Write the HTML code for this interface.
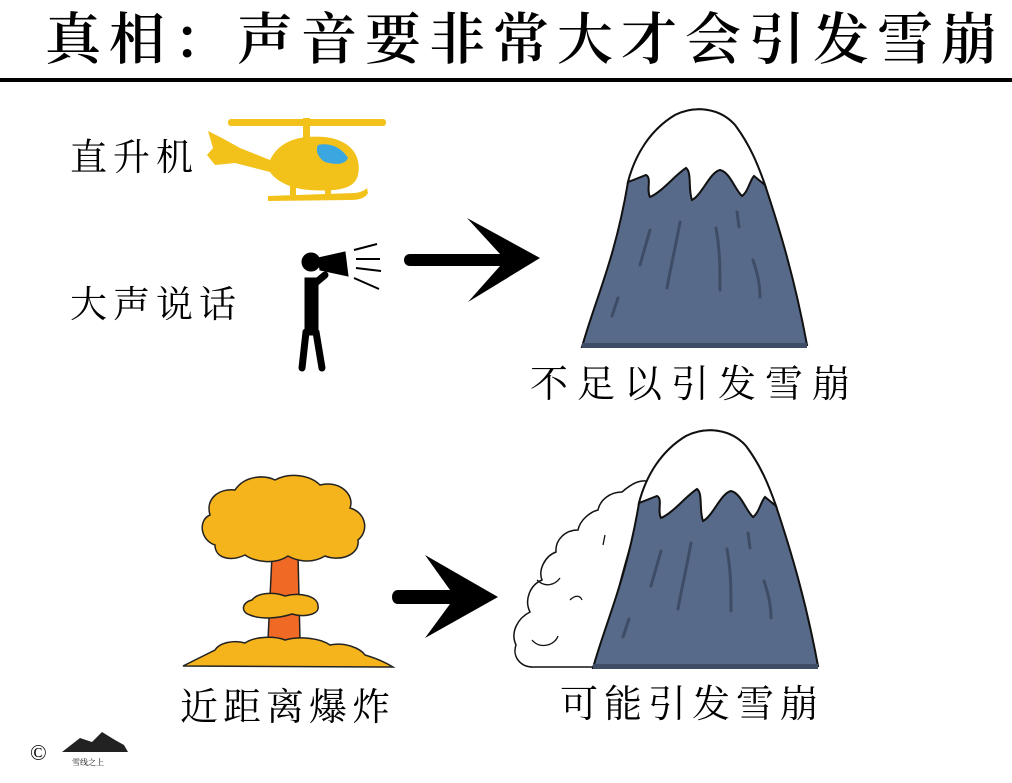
<!DOCTYPE html>
<html><head><meta charset="utf-8"><style>
html,body{margin:0;padding:0;background:#fff;}
body{width:1012px;height:783px;overflow:hidden;}
svg{display:block}
text{font-family:"Liberation Serif","Noto Serif CJK SC","Noto Sans CJK SC",serif;fill:#000;}
</style></head><body>
<svg width="1012" height="783" viewBox="0 0 1012 783" xmlns="http://www.w3.org/2000/svg">
<defs>
<g id="mtn">
  <path d="M12,247 C25,200 45,160 58,82 C65,55 80,30 105,15 C125,5 150,8 165,25 C180,45 188,65 195,85 C210,130 225,180 237,245 Z" fill="#586a89" stroke="#111" stroke-width="2"/>
  <rect x="12" y="243" width="225" height="5" fill="#3e4c66"/>
  <path d="M58,82 C65,55 80,30 105,15 C125,5 150,8 165,25 C180,45 188,65 195,85 L184,76 C180,80 178,92 172,96 C165,90 160,72 150,70 C140,72 132,95 122,100 C118,90 122,72 116,68 C105,75 92,92 80,97 C76,90 82,78 76,75 Z" fill="#fff" stroke="#111" stroke-width="2"/>
  <g stroke="#3e4c66" stroke-width="3" fill="none" stroke-linecap="round">
    <path d="M80,130 L70,165"/><path d="M110,122 C105,150 100,170 97,188"/>
    <path d="M146,128 C150,150 150,170 150,190"/><path d="M167,112 L169,127"/>
    <path d="M183,160 C188,175 190,185 190,197"/><path d="M48,198 L42,216"/>
  </g>
</g>
</defs>

<text x="45" y="59" font-size="56" letter-spacing="8" font-weight="600">真相：声音要非常大才会引发雪崩</text>
<rect x="0" y="78" width="1012" height="4" fill="#000"/>

<text x="70" y="170" font-size="37" letter-spacing="6">直升机</text>
<text x="70" y="317" font-size="37" letter-spacing="6">大声说话</text>
<text x="530" y="397" font-size="38" letter-spacing="9">不足以引发雪崩</text>
<text x="180" y="720" font-size="38" letter-spacing="5">近距离爆炸</text>
<text x="560" y="717" font-size="38" letter-spacing="6">可能引发雪崩</text>

<!-- helicopter -->
<g fill="#f2c21b">
  <rect x="228" y="119" width="158" height="7" rx="3"/>
  <rect x="303" y="118" width="7" height="22"/>
  <path d="M270,160 C280,140 300,135 325,137 C350,140 362,155 358,175 C355,188 340,192 310,190 C290,189 275,180 270,172 L235,163 L215,165 L207,155 L213,148 L208,131 L222,138 L240,148 Z"/>
  <rect x="290" y="186" width="6" height="12"/><rect x="325" y="186" width="6" height="12"/>
  <path d="M268,196 L355,193 C362,192 365,190 367,188 L368,193 C365,198 360,200 350,200 L268,201 Z"/>
</g>
<path d="M318,145 C330,142 342,148 348,158 C345,165 335,165 325,162 C318,158 315,150 318,145 Z" fill="#3aa7e0"/>

<!-- person -->
<g fill="#000" stroke="#000">
  <circle cx="311" cy="262" r="9"/>
  <path d="M305,278 L318,278 L318,335 L305,335 Z"/>
  <path d="M306,332 L302,368 M316,332 L322,368" stroke-width="7" stroke-linecap="round" fill="none"/>
  <path d="M318,258 L345,252 L348,276 L320,270 Z"/>
  <path d="M313,285 L325,275" stroke-width="7" stroke-linecap="round"/>
  <g stroke-width="2" fill="none"><path d="M354,250 L377,244"/><path d="M356,259 L380,259"/><path d="M356,268 L381,271"/><path d="M354,278 L379,289"/></g>
</g>

<!-- arrow 1 -->
<path d="M410,254 L500,254 L467,218 L540,258 L468,302 L500,266 L410,266 C402,266 402,254 410,254 Z" fill="#000"/>

<use href="#mtn" x="570" y="100"/>

<!-- avalanche cloud -->
<path d="M651,482 C640,478 630,485 622,492 C610,492 600,500 598,510 C590,512 580,520 578,530 C565,530 555,540 556,552 C545,556 538,570 542,580 C530,585 524,600 530,612 C518,618 510,632 516,645 C512,656 520,668 535,667 L600,667 C612,610 630,540 651,482 Z" fill="#fff" stroke="#111" stroke-width="1.5"/>
<g stroke="#111" stroke-width="1.3" fill="none">
  <path d="M537,580 C545,588 555,585 560,578"/><path d="M532,640 C540,650 555,645 558,636"/>
  <path d="M605,535 L603,545"/><path d="M570,600 C575,595 580,595 582,600"/>
</g>
<use href="#mtn" x="581" y="421"/>

<!-- arrow 2 -->
<path d="M398,590 L450,590 L425,555 L498,597 L425,638 L450,604 L398,604 C390,604 390,590 398,590 Z" fill="#000"/>

<!-- mushroom cloud -->
<g stroke="#222" stroke-width="1.5">
  <path d="M272,555 L268,640 L300,640 L298,555 Z" fill="#f06a25"/>
  <path d="M215,545 C200,540 198,520 210,515 C205,498 220,488 235,490 C245,475 265,475 275,480 C290,472 310,475 320,485 C340,480 355,495 350,508 C365,512 370,530 358,540 C360,555 340,562 325,556 C310,565 295,560 288,556 C275,565 255,562 245,555 C230,562 215,558 215,545 Z" fill="#f6b41c"/>
  <path d="M250,615 C240,612 242,602 252,600 C258,592 275,592 285,596 C300,592 318,596 318,606 C320,614 305,618 292,614 C280,618 262,620 250,615 Z" fill="#f6b41c"/>
  <path d="M183,666 C195,660 205,655 215,650 C220,642 235,640 245,643 C255,636 275,636 285,640 C300,636 320,638 330,645 C345,642 360,648 365,655 C375,658 385,662 393,667 Z" fill="#f6b41c"/>
</g>

<!-- logo -->
<text x="30" y="760" font-size="22" font-family="Liberation Sans,sans-serif">©</text>
<path d="M62,752 L80,738 L92,742 L102,732 L115,740 L124,745 L128,752 Z" fill="#222"/>
<text x="72" y="765" font-size="8">雪线之上</text>
</svg>
</body></html>
